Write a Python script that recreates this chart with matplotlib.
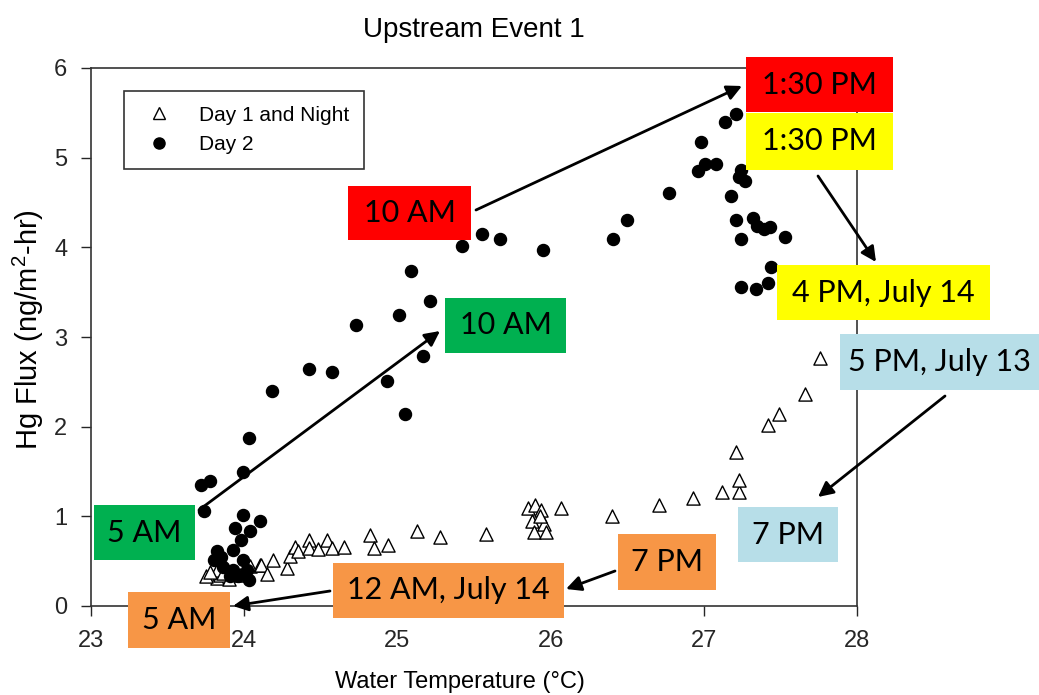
import matplotlib
matplotlib.use("Agg")
import matplotlib.pyplot as plt
from matplotlib.patches import Rectangle, FancyArrowPatch
from matplotlib.lines import Line2D

plt.rcParams['font.family'] = ['Liberation Sans', 'DejaVu Sans']
plt.rcParams['mathtext.default'] = 'regular'

# Day 1 and Night (open triangles): water temperature (°C), Hg flux (ng/m2-hr)
day1_temp = [23.82, 23.84, 23.82, 23.86, 23.97, 23.75, 23.78, 23.90, 24.04, 24.10,
             24.11, 24.15, 24.19, 24.28, 24.30, 24.33, 24.35, 24.42, 24.42, 24.48,
             24.54, 24.57, 24.65, 24.82, 24.85, 24.94, 25.13, 25.28, 25.58, 25.85,
             25.90, 25.94, 25.88, 25.96, 25.89, 25.97, 25.93, 26.07, 26.40, 26.71,
             26.93, 27.12, 27.23, 27.23, 27.21, 27.42, 27.49, 27.66, 27.76]
day1_flux = [0.31, 0.35, 0.40, 0.37, 0.35, 0.33, 0.38, 0.30, 0.45, 0.46,
             0.46, 0.36, 0.51, 0.42, 0.56, 0.66, 0.61, 0.74, 0.65, 0.64,
             0.74, 0.65, 0.66, 0.79, 0.65, 0.68, 0.84, 0.77, 0.80, 1.09,
             1.13, 1.07, 0.95, 0.92, 0.83, 0.83, 1.00, 1.09, 1.00, 1.13,
             1.20, 1.27, 1.27, 1.40, 1.72, 2.02, 2.14, 2.36, 2.77]

# Day 2 (filled circles)
day2_temp = [23.72, 23.78, 23.99, 24.03, 24.18, 24.42, 24.57, 24.73, 24.93, 25.01,
             25.05, 25.17, 25.21, 25.09, 25.42, 25.55, 25.67, 25.95, 26.41, 26.50,
             26.77, 26.96, 27.01, 27.08, 26.98, 27.14, 27.21, 27.24, 27.23, 27.27,
             27.18, 27.21, 27.32, 27.35, 27.39, 27.43, 27.24, 27.53, 27.44, 27.24,
             27.34, 27.42, 23.74, 23.99, 23.94, 24.10, 24.04, 23.98, 23.93, 23.82,
             23.85, 23.86, 23.93, 23.99, 24.02, 23.96, 24.03, 23.91, 23.80]
day2_flux = [1.35, 1.39, 1.50, 1.87, 2.40, 2.64, 2.61, 3.13, 2.51, 3.24,
             2.14, 2.79, 3.40, 3.74, 4.01, 4.15, 4.09, 3.97, 4.09, 4.31,
             4.61, 4.85, 4.93, 4.93, 5.18, 5.40, 5.49, 4.86, 4.78, 4.74,
             4.57, 4.31, 4.33, 4.24, 4.20, 4.23, 4.09, 4.11, 3.78, 3.56,
             3.54, 3.60, 1.06, 1.02, 0.87, 0.95, 0.84, 0.74, 0.62, 0.61,
             0.55, 0.44, 0.40, 0.51, 0.40, 0.33, 0.29, 0.33, 0.51]

x_ticks = [23, 24, 25, 26, 27, 28]
y_ticks = [0, 1, 2, 3, 4, 5, 6]

W, H = 1039, 695
fig = plt.figure(figsize=(W / 100, H / 100), dpi=100)
ax = fig.add_axes([91 / W, 1 - 606 / H, (857 - 91) / W, (606 - 68) / H])

ax.scatter(day1_temp, day1_flux, marker='^', s=90, facecolor='white',
           edgecolor='black', linewidth=1.0, zorder=3, label='Day 1 and Night')
ax.scatter(day2_temp, day2_flux, marker='o', s=75, color='black',
           zorder=4, label='Day 2')

ax.set_xlim(23, 28)
ax.set_ylim(0, 6)
ax.set_xticks(x_ticks)
ax.set_yticks(y_ticks)
ax.tick_params(axis='both', direction='out', length=7, width=1, labelsize=17,
               colors='#262626', pad=10)
ax.tick_params(top=False, right=False)
for sp in ax.spines.values():
    sp.set_linewidth(1.2)
    sp.set_color('#333333')

ax.set_title('Upstream Event 1', fontsize=20, pad=22)
ax.set_xlabel('Water Temperature (°C)', fontsize=17)
ax.xaxis.set_label_coords(0.482, -0.12)
ax.set_ylabel('Hg Flux (ng/m$^{2}$-hr)', fontsize=21)
ax.yaxis.set_label_coords(-0.059, 0.513)

handles = [Line2D([], [], marker='^', ls='none', markersize=9, markerfacecolor='white',
                  markeredgecolor='black', markeredgewidth=1.0),
           Line2D([], [], marker='o', ls='none', markersize=8, color='black')]
leg = ax.legend(handles, ['Day 1 and Night', 'Day 2'], loc='upper left',
                bbox_to_anchor=(0.043, 0.957), fontsize=15, frameon=True,
                fancybox=False, edgecolor='black', borderpad=0.7,
                handletextpad=0.9, labelspacing=0.5, borderaxespad=0)
leg.get_frame().set_linewidth(1.2)

# Time labels (pixel boxes: left, top, right, bottom)
RED, YELLOW, GREEN, ORANGE, BLUE = '#FF0000', '#FFFF00', '#00B050', '#F79646', '#B7DEE8'
labels = [
    ('1:30 PM', RED, 746, 57, 893, 112),
    ('1:30 PM', YELLOW, 746, 113, 893, 170),
    ('10 AM', RED, 348, 186, 471, 240),
    ('10 AM', GREEN, 445, 298, 566, 353),
    ('4 PM, July 14', YELLOW, 777, 265, 990, 320),
    ('5 PM, July 13', BLUE, 840, 334, 1039, 390),
    ('7 PM', BLUE, 738, 507, 838, 562),
    ('5 AM', GREEN, 94, 505, 195, 560),
    ('7 PM', ORANGE, 618, 534, 716, 590),
    ('12 AM, July 14', ORANGE, 333, 563, 564, 618),
    ('5 AM', ORANGE, 128, 592, 230, 648),
]


def fx(px):
    return px / W


def fy(py):
    return 1 - py / H


for text, color, x0, y0, x1, y1 in labels:
    fig.add_artist(Rectangle((fx(x0), fy(y1)), fx(x1) - fx(x0), fy(y0) - fy(y1),
                             transform=fig.transFigure, facecolor=color,
                             edgecolor='none', zorder=5))
    fig.text(fx((x0 + x1) / 2), fy((y0 + y1) / 2), text, ha='center', va='center',
             fontsize=22, family=['Lato', 'DejaVu Sans'], color='black', zorder=6)

arrows = [
    ((199, 510), (440, 331)),
    ((476, 210), (742, 86)),
    ((818, 176), (876, 262)),
    ((945, 396), (818, 497)),
    ((615, 571), (566, 589)),
    ((330, 591), (233, 606)),
]
for (xa, ya), (xb, yb) in arrows:
    fig.add_artist(FancyArrowPatch((fx(xa), fy(ya)), (fx(xb), fy(yb)),
                                   transform=fig.transFigure,
                                   arrowstyle='-|>,head_length=9,head_width=4.5',
                                   color='black', linewidth=2.0,
                                   shrinkA=0, shrinkB=0, zorder=7))

fig.savefig('out.png', dpi=100)
